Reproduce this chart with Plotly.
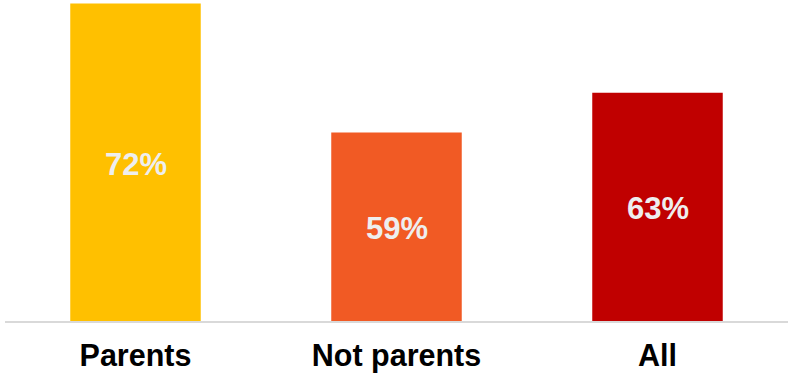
import plotly.graph_objects as go

categories = ["Parents", "Not parents", "All"]
values = [72, 59, 63]
colors = ["#FFC000", "#F15A24", "#C00000"]
labels = [f"<b>{v}%</b>" for v in values]
tick_labels = [f"<b>{c}</b>" for c in categories]
y_min, y_max = 40, 72.36

fig = go.Figure()
fig.add_trace(go.Bar(
    x=categories, y=values, marker_color=colors, marker_line_width=0,
    width=0.5, hoverinfo="skip",
))
# labels centred in the visible part of each bar
for c, v, t in zip(categories, values, labels):
    fig.add_annotation(
        x=c, y=(y_min + v) / 2, text=t, showarrow=False, yshift=-2,
        font=dict(family="Liberation Sans, Arial", size=31, color="#EEEEEE"),
        xanchor="center", yanchor="middle",
    )
fig.update_layout(
    width=788, height=374, margin=dict(l=5, r=0, t=0, b=53, autoexpand=False),
    plot_bgcolor="white", paper_bgcolor="white", showlegend=False,
    xaxis=dict(showline=True, linecolor="#D9D9D9", linewidth=2,
               tickmode="array", tickvals=categories, ticktext=tick_labels,
               tickfont=dict(family="Liberation Sans, Arial", size=30.5, color="black"),
               ticks="outside", ticklen=6, tickcolor="white", automargin=False),
    yaxis=dict(range=[y_min, y_max], visible=False, showgrid=False, automargin=False),
)
fig.write_html("out.html", config={"displayModeBar": False},
               post_script="document.body.style.margin='0';document.body.style.overflow='hidden';")
